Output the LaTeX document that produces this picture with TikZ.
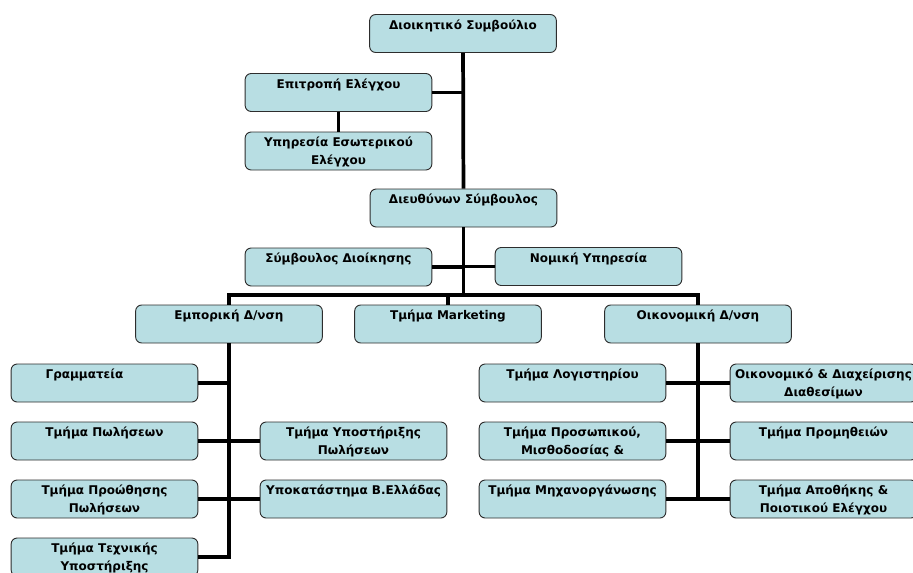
\documentclass[tikz,border=0pt]{standalone}
\usepackage{fontspec}
\setmainfont{DejaVu Sans}
\definecolor{boxfill}{RGB}{184,222,227}
\definecolor{boxline}{RGB}{45,45,45}
\begin{document}
\begin{tikzpicture}[x=0.75pt,y=-0.75pt,
    unit/.style={shape=rectangle,draw=boxline,fill=boxfill,line width=0.7pt,rounded corners=4.5pt,
        minimum width=140pt,minimum height=28.5pt,inner sep=0pt},
    txt/.style={anchor=north,inner sep=0pt,yshift=-4pt,align=center,
        font=\bfseries\fontsize{9}{13.5}\selectfont},
    conn/.style={line width=2.8pt}]
    \useasboundingbox (0,0) rectangle (913,572);
    \clip (0,0) rectangle (913,572);
    \node[unit,label={[txt]north:Διοικητικό Συμβούλιο}] (dioik) at (463,33.5) {};
    \node[unit,label={[txt]north:Επιτροπή Ελέγχου}] (epitr) at (338.5,92.5) {};
    \node[unit,label={[txt]north:{Υπηρεσία Εσωτερικού\\Ελέγχου}}] (ypes) at (338.5,151) {};
    \node[unit,label={[txt]north:Διευθύνων Σύμβουλος}] (dieuth) at (463.5,208) {};
    \node[unit,label={[txt]north:Σύμβουλος Διοίκησης}] (symb) at (338.5,267) {};
    \node[unit,label={[txt]north:Νομική Υπηρεσία}] (nomiki) at (588.5,266.5) {};
    \node[unit,label={[txt]north:Εμπορική Δ/νση}] (empor) at (229,324) {};
    \node[unit,label={[txt]north:Τμήμα Marketing}] (mark) at (448,324) {};
    \node[unit,label={[txt]north:Οικονομική Δ/νση}] (oikon) at (698,324) {};
    \node[unit,label={[txt,xshift=-15pt]north:Γραμματεία}] (gram) at (104.5,383) {};
    \node[unit,label={[txt]north:Τμήμα Πωλήσεων}] (polis) at (104.5,441) {};
    \node[unit,label={[txt]north:{Τμήμα Προώθησης\\Πωλήσεων}}] (proot) at (104.5,499) {};
    \node[unit,label={[txt]north:{Τμήμα Τεχνικής\\Υποστήριξης}}] (techn) at (104.5,557) {};
    \node[unit,label={[txt]north:{Τμήμα Υποστήριξης\\Πωλήσεων}}] (ypost) at (353.5,441) {};
    \node[unit,label={[txt]north:Υποκατάστημα Β.Ελλάδας}] (ypok) at (353.5,499) {};
    \node[unit,label={[txt]north:Τμήμα Λογιστηρίου}] (logist) at (572.5,383) {};
    \node[unit,label={[txt]north:{Τμήμα Προσωπικού,\\Μισθοδοσίας \&}}] (prosop) at (572.5,441) {};
    \node[unit,label={[txt]north:Τμήμα Μηχανοργάνωσης}] (mixan) at (572.5,499) {};
    \node[unit,label={[txt]north:{Οικονομικό \& Διαχείρισης\\Διαθεσίμων}}] (diax) at (823.5,383) {};
    \node[unit,label={[txt]north:Τμήμα Προμηθειών}] (promith) at (823.5,441) {};
    \node[unit,label={[txt]north:{Τμήμα Αποθήκης \&\\Ποιοτικού Ελέγχου}}] (apoth) at (823.5,499) {};
    \coordinate (bus) at (463.5,295);
    % top part
    \draw[conn] (dioik) -- (dieuth);
    \draw[conn] (epitr) -- (epitr.east -| dioik.south);
    \draw[conn] (epitr) -- (ypes);
    \draw[conn] (dieuth) -- (bus);
    \draw[conn] (symb) -- (symb.east -| dieuth.south);
    \draw[conn] (nomiki) -- (nomiki.west -| dieuth.south);
    % directorates
    \draw[conn] (empor.north) -- (empor.north |- bus) -| (oikon.north);
    \draw[conn] (mark.north) -- (mark.north |- bus);
    \draw[conn] (empor.south) |- (techn.east);
    \draw[conn] (gram) -- (gram.east -| empor.south);
    \draw[conn] (polis) -- (ypost);
    \draw[conn] (proot) -- (ypok);
    \draw[conn] (oikon.south) |- (mixan.east);
    \draw[conn] (oikon.south |- apoth.west) -- (apoth);
    \draw[conn] (logist) -- (diax);
    \draw[conn] (prosop) -- (promith);
\end{tikzpicture}
\end{document}
